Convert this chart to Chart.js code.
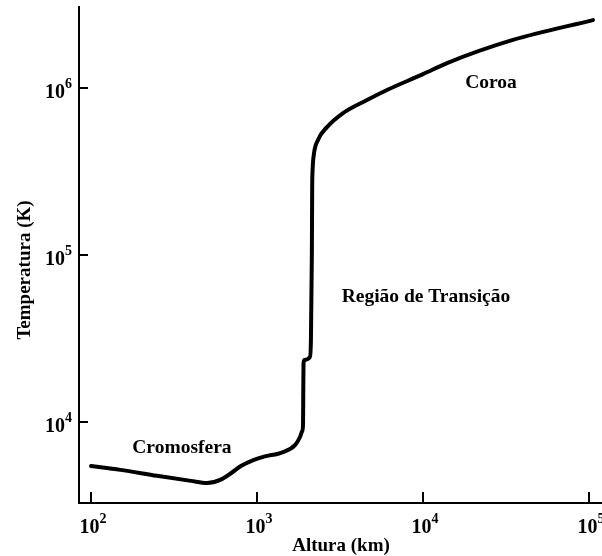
<!DOCTYPE html>
<html>
<head>
<meta charset="utf-8">
<script src="https://cdn.jsdelivr.net/npm/chart.js@4/dist/chart.umd.min.js"></script>
<style>
  html, body { margin: 0; padding: 0; background: #ffffff; }
  #wrap { width: 602px; height: 556px; position: relative; }
</style>
</head>
<body>
<div id="wrap"><canvas id="c" width="602" height="556"></canvas></div>
<script>
// Altura acima da fotosfera (km) e temperatura (K) da atmosfera solar
const alturaKm = [
  100, 150, 250, 400, 500, 600, 700, 800, 950, 1100, 1436, 1694, 1816, 1870, 1893,
  1900, 1907, 1933, 2084, 2113, 2140, 2150, 2165, 2200, 2330, 2640, 3300, 4600,
  6070, 10000, 13960, 34800, 105700
];
const temperaturaK = [
  5450, 5170, 4760, 4440, 4310, 4500, 4950, 5450, 5920, 6200, 6610, 7280, 8130, 8800, 9600,
  15000, 22560, 23500, 24500, 31000, 100000, 250000, 330000, 400000, 489000, 583000, 708000, 847000,
  973000, 1210000, 1410000, 1940000, 2550000
];

// Marcas dos eixos (potências de dez)
const xTickExps = [2, 3, 4, 5];
const yTickExps = [4, 5, 6];

// Rótulos das regiões: texto, altura (km), temperatura (K)
const regionNames = ['Cromosfera', 'Região de Transição', 'Coroa'];
const regionAltura = [353, 10420, 25680];
const regionTemp = [6520, 52400, 1000000];

const SERIF = '"Liberation Serif", "Times New Roman", serif';

function drawPower(ctx, exp, x, baseline, align) {
  const base = '10', sup = String(exp);
  ctx.font = 'bold 20px ' + SERIF;
  const wb = ctx.measureText(base).width;
  ctx.font = 'bold 14px ' + SERIF;
  const ws = ctx.measureText(sup).width;
  let left;
  if (align === 'center') left = x - (wb + ws) / 2;
  else left = x - (wb + ws); // alinhado à direita
  ctx.textAlign = 'left';
  ctx.textBaseline = 'alphabetic';
  ctx.font = 'bold 20px ' + SERIF;
  ctx.fillText(base, left, baseline);
  ctx.font = 'bold 14px ' + SERIF;
  ctx.fillText(sup, left + wb, baseline - 10);
}

const axisDecor = {
  id: 'axisDecor',
  afterDraw(chart) {
    const { ctx, chartArea, scales } = chart;
    const xs = scales.x, ys = scales.y;
    ctx.save();
    ctx.strokeStyle = '#000';
    ctx.fillStyle = '#000';
    ctx.lineWidth = 2;

    // marcas internas do eixo x
    xTickExps.forEach(e => {
      const px = Math.round(xs.getPixelForValue(Math.pow(10, e)));
      ctx.beginPath();
      ctx.moveTo(px, chartArea.bottom);
      ctx.lineTo(px, chartArea.bottom - 11);
      ctx.stroke();
      drawPower(ctx, e, px + 2, chartArea.bottom + 30, 'center');
    });

    // marcas internas do eixo y
    yTickExps.forEach(e => {
      const py = Math.round(ys.getPixelForValue(Math.pow(10, e)));
      ctx.beginPath();
      ctx.moveTo(chartArea.left, py);
      ctx.lineTo(chartArea.left + 9, py);
      ctx.stroke();
      drawPower(ctx, e, chartArea.left - 7, py + 10, 'right');
    });

    // títulos dos eixos
    ctx.font = 'bold 19px ' + SERIF;
    ctx.textAlign = 'center';
    ctx.textBaseline = 'alphabetic';
    ctx.fillText('Altura (km)', 341, 551);

    ctx.save();
    ctx.translate(30, 270);
    ctx.rotate(-Math.PI / 2);
    ctx.textBaseline = 'alphabetic';
    ctx.fillText('Temperatura (K)', 0, 0);
    ctx.restore();

    // nomes das regiões
    ctx.font = 'bold 19.5px ' + SERIF;
    ctx.textAlign = 'center';
    ctx.textBaseline = 'alphabetic';
    regionNames.forEach((name, i) => {
      const px = xs.getPixelForValue(regionAltura[i]);
      const py = ys.getPixelForValue(regionTemp[i]);
      ctx.fillText(name, px, py);
    });
    ctx.restore();
  }
};

const points = alturaKm.map((h, i) => ({ x: h, y: temperaturaK[i] }));

new Chart(document.getElementById('c'), {
  type: 'line',
  data: {
    datasets: [{
      data: points,
      borderColor: '#000',
      borderWidth: 4,
      borderCapStyle: 'round',
      borderJoinStyle: 'round',
      pointRadius: 0,
      fill: false,
      cubicInterpolationMode: 'monotone'
    }]
  },
  options: {
    responsive: false,
    animation: false,
    devicePixelRatio: 1,
    layout: { padding: { left: 79, top: 7, right: 0, bottom: 53 } },
    plugins: { legend: { display: false }, tooltip: { enabled: false } },
    scales: {
      x: {
        type: 'logarithmic',
        min: 84.67,
        max: 119760,
        ticks: { display: false },
        grid: { display: false, drawTicks: false },
        border: { display: true, color: '#000', width: 2 }
      },
      y: {
        type: 'logarithmic',
        min: 3273.6,
        max: 3055000,
        ticks: { display: false },
        grid: { display: false, drawTicks: false },
        border: { display: true, color: '#000', width: 2 }
      }
    }
  },
  plugins: [axisDecor]
});
</script>
</body>
</html>
